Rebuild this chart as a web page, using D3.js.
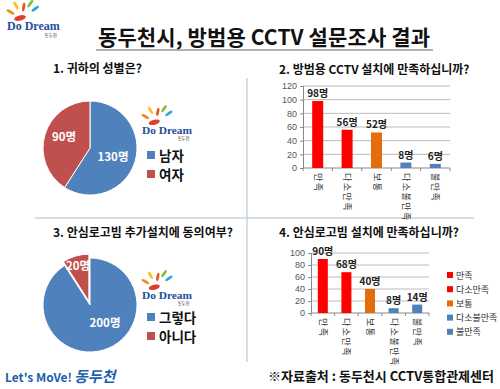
<!DOCTYPE html>
<html>
<head>
<meta charset="utf-8">
<script src="https://cdn.jsdelivr.net/npm/d3@7"></script>
<style>
  body { margin: 0; background: #fff; }
  svg { display: block; font-family: "Noto Sans CJK KR", "Noto Sans", sans-serif; }
</style>
</head>
<body>
<div id="chart"></div>
<script>
// data
var genderLabels = ["남자", "여자"],
    genderValues = [130, 90];
var agreeLabels = ["그렇다", "아니다"],
    agreeValues = [200, 20];
var satisfyCats = ["만족", "다소만족", "보통", "다소불만족", "불만족"];
var cctvValues = [98, 56, 52, 8, 6];
var beamValues = [90, 68, 40, 8, 14];
var cctvTicks = [0, 20, 40, 60, 80, 100, 120];
var beamTicks = [0, 20, 40, 60, 80, 100];

var width = 500, height = 389;
var pieColors = ["#4f81bd", "#c0504d"];
var barColors = ["#ff0000", "#ff0000", "#e46c0a", "#4f81bd", "#4f81bd"];

var svg = d3.select("#chart").append("svg")
    .attr("width", width)
    .attr("height", height);

// title + underline
svg.append("text")
    .attr("x", 264).attr("y", 45)
    .attr("text-anchor", "middle")
    .attr("font-size", 21).attr("font-weight", "bold")
    .attr("fill", "#111")
    .attr("textLength", 332)
    .text("동두천시, 방범용 CCTV 설문조사 결과");
svg.append("line")
    .attr("x1", 96).attr("x2", 433).attr("y1", 50).attr("y2", 50)
    .attr("stroke", "#999").attr("stroke-width", 1.5);

// dividers
svg.append("line")
    .attr("x1", 247).attr("x2", 247).attr("y1", 78).attr("y2", 362)
    .attr("stroke", "#c9d3dc").attr("stroke-width", 1.5);
svg.append("line")
    .attr("x1", 35).attr("x2", 474).attr("y1", 218).attr("y2", 218)
    .attr("stroke", "#c9d3dc").attr("stroke-width", 1.5);

function logo(g, x, y, s) {
  var l = g.append("g").attr("transform", "translate(" + x + "," + y + ") scale(" + s + ")");
  var petals = [["#f7c11e", -8, -14, -30], ["#e8542a", -3, -12, 10], ["#f08a1c", -12, -9, -60], ["#7dc243", 2, -16, 35], ["#2fa5d8", 6, -12, 55]];
  petals.forEach(function(p) {
    l.append("ellipse")
      .attr("cx", 0).attr("cy", -4).attr("rx", 1.5).attr("ry", 4.5)
      .attr("fill", p[0])
      .attr("transform", "translate(" + p[1] + "," + p[2] + ") rotate(" + p[3] + ")");
  });
  l.append("ellipse").attr("cx", -6).attr("cy", -5).attr("rx", 6).attr("ry", 2.6)
    .attr("fill", "#e23c2a").attr("transform", "rotate(-15,-6,-5)");
  l.append("text").attr("x", -19).attr("y", 7)
    .attr("font-family", "'Liberation Serif', 'DejaVu Serif', serif")
    .attr("font-size", 12).attr("font-weight", "bold")
    .attr("fill", "#1f4e9e")
    .text("Do Dream");
  l.append("text").attr("x", 31).attr("y", 14)
    .attr("font-size", 4.5).attr("fill", "#333").attr("text-anchor", "end")
    .text("동두천");
}

logo(svg, 26, 23, 1);

// pies
function pie(cx, cy, r, labels, values, title, titleX, titleY, labelPos, explodeIndex, legendY) {
  var g = svg.append("g");
  g.append("text")
    .attr("x", titleX).attr("y", titleY)
    .attr("font-size", 12).attr("font-weight", "bold").attr("fill", "#111")
    .text(title);

  var arcs = d3.pie().sort(null)(values);
  var arc = d3.arc().innerRadius(0).outerRadius(r);
  var pg = g.append("g").attr("transform", "translate(" + cx + "," + cy + ")");
  pg.selectAll("path")
    .data(arcs).enter().append("path")
    .attr("d", arc)
    .attr("fill", function(d, i) { return pieColors[i]; })
    .attr("stroke", "#fff").attr("stroke-width", 1)
    .attr("transform", function(d, i) {
      if (i !== explodeIndex) return null;
      var a = (d.startAngle + d.endAngle) / 2;
      return "translate(" + (Math.sin(a) * 4) + "," + (-Math.cos(a) * 4) + ")";
    });
  pg.selectAll("text.v")
    .data(arcs).enter().append("text")
    .attr("class", "v")
    .attr("x", function(d, i) { return labelPos[i][0]; })
    .attr("y", function(d, i) { return labelPos[i][1]; })
    .attr("text-anchor", "middle")
    .attr("dominant-baseline", "central")
    .attr("font-size", 11.5).attr("font-weight", "bold").attr("fill", "#fff")
    .text(function(d) { return d.data + "명"; });

  labels.forEach(function(t, i) {
    g.append("rect")
      .attr("x", 147).attr("y", legendY[i] - 4).attr("width", 8).attr("height", 8)
      .attr("fill", pieColors[i]);
    g.append("text")
      .attr("x", 159).attr("y", legendY[i])
      .attr("dominant-baseline", "central")
      .attr("font-size", 13.5).attr("font-weight", "bold").attr("fill", "#111")
      .text(t);
  });
}

pie(90, 148, 47, genderLabels, genderValues, "1. 귀하의 성별은?", 53, 73,
    [[23, 8], [-26, -12]], -1, [155, 174]);
logo(svg, 160, 127, 0.95);

pie(90, 305, 47, agreeLabels, agreeValues, "3. 안심로고빔 추가설치에 동의여부?", 53, 237,
    [[15, 17], [-12, -40]], 1, [317, 336]);
logo(svg, 160, 292, 0.95);

// bar charts
function bars(values, ticks, title, titleX, titleY, x0, x1, y0, y1, barW, labelFont) {
  var g = svg.append("g");
  g.append("text")
    .attr("x", titleX).attr("y", titleY)
    .attr("font-size", 12).attr("font-weight", "bold").attr("fill", "#111")
    .text(title);

  var x = d3.scaleBand().domain(satisfyCats).range([x0, x1]);
  var y = d3.scaleLinear().domain([0, d3.max(ticks)]).range([y0, y1]);

  g.selectAll("line.grid")
    .data(ticks).enter().append("line")
    .attr("x1", x0).attr("x2", x1)
    .attr("y1", function(d) { return y(d); })
    .attr("y2", function(d) { return y(d); })
    .attr("stroke", function(d) { return d === 0 ? "#888" : "#bbb"; })
    .attr("stroke-width", 1);

  var yAxis = g.append("g")
    .attr("transform", "translate(" + x0 + ",0)")
    .call(d3.axisLeft(y).tickValues(ticks).tickSize(3).tickFormat(d3.format("d")));
  yAxis.select(".domain").attr("stroke", "#888");
  yAxis.selectAll(".tick line").attr("stroke", "#888");
  yAxis.selectAll("text").attr("font-size", 9).attr("fill", "#555")
    .attr("font-family", "'Liberation Sans', Arial, sans-serif");

  // x ticks at band edges
  g.selectAll("line.xt")
    .data(satisfyCats.concat(["end"])).enter().append("line")
    .attr("x1", function(d, i) { return x0 + i * x.bandwidth(); })
    .attr("x2", function(d, i) { return x0 + i * x.bandwidth(); })
    .attr("y1", y0).attr("y2", y0 + 3)
    .attr("stroke", "#888");

  g.selectAll("rect.bar")
    .data(values).enter().append("rect")
    .attr("x", function(d, i) { return x(satisfyCats[i]) + (x.bandwidth() - barW) / 2; })
    .attr("y", function(d) { return y(d); })
    .attr("width", barW)
    .attr("height", function(d) { return y0 - y(d); })
    .attr("fill", function(d, i) { return barColors[i]; });

  g.selectAll("text.val")
    .data(values).enter().append("text")
    .attr("x", function(d, i) { return x(satisfyCats[i]) + x.bandwidth() / 2; })
    .attr("y", function(d) { return y(d) - 4; })
    .attr("text-anchor", "middle")
    .attr("font-size", labelFont).attr("font-weight", "bold").attr("fill", "#222")
    .text(function(d) { return d + "명"; });

  g.selectAll("text.cat")
    .data(satisfyCats).enter().append("text")
    .attr("transform", function(d) {
      return "translate(" + (x(d) + x.bandwidth() / 2 - 3) + "," + (y0 + 5) + ") rotate(90)";
    })
    .attr("font-size", 9).attr("fill", "#333")
    .attr("letter-spacing", 1.5)
    .text(function(d) { return d; });
  return x;
}

bars(cctvValues, cctvTicks, "2. 방범용 CCTV 설치에 만족하십니까?", 279, 74,
     303, 450, 168, 86, 11, 10);
bars(beamValues, beamTicks, "4. 안심로고빔  설치에 만족하십니까?", 279, 237,
     311, 429, 313, 253, 10, 10);

// legend of chart 4
satisfyCats.forEach(function(t, i) {
  var ly = 275 + i * 14.2;
  svg.append("rect")
    .attr("x", 447).attr("y", ly - 3).attr("width", 6).attr("height", 6)
    .attr("fill", barColors[i]);
  svg.append("text")
    .attr("x", 456).attr("y", ly)
    .attr("dominant-baseline", "central")
    .attr("font-size", 9).attr("fill", "#333")
    .text(t);
});

// footer
svg.append("text")
    .attr("x", 5).attr("y", 382)
    .attr("font-size", 12).attr("font-weight", "bold").attr("fill", "#1f5fae")
    .text("Let's MoVe!");
svg.append("text")
    .attr("x", 74).attr("y", 382)
    .attr("font-size", 15).attr("font-weight", "bold").attr("fill", "#1f5fae")
    .attr("font-style", "italic")
    .text("동두천");
svg.append("text")
    .attr("x", 494).attr("y", 381)
    .attr("text-anchor", "end")
    .attr("font-size", 13).attr("font-weight", "bold").attr("fill", "#111")
    .text("※자료출처 : 동두천시 CCTV통합관제센터");
</script>
</body>
</html>
